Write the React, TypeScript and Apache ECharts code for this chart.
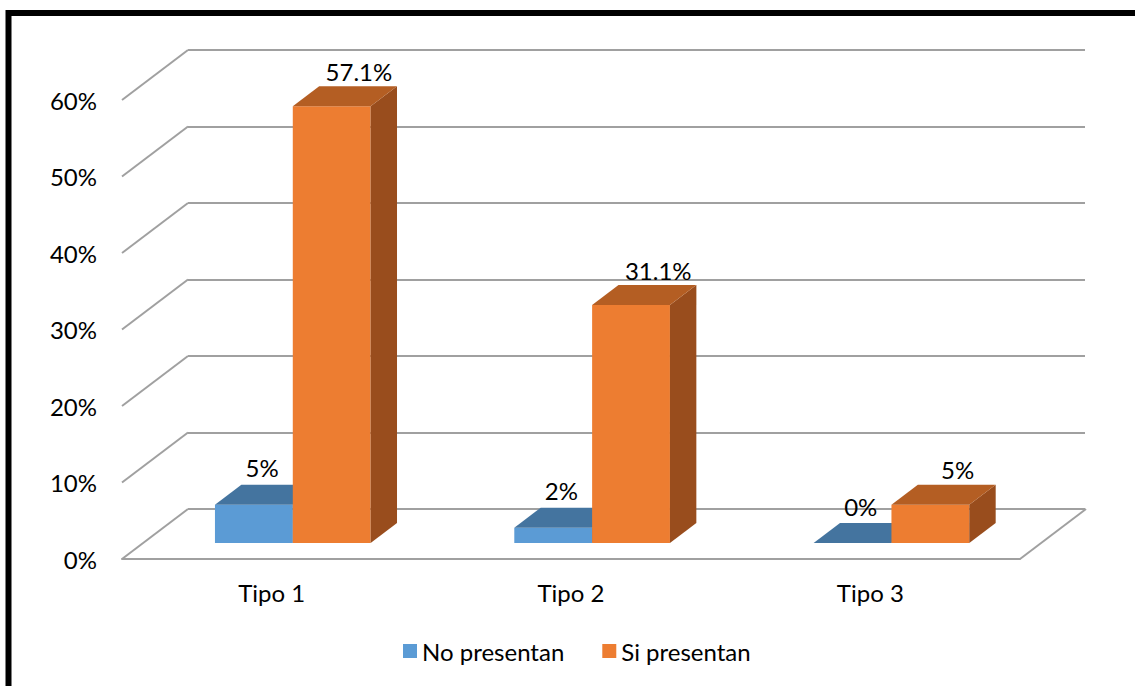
import React, { useEffect, useRef } from "react";
import * as echarts from "echarts";

// Chart content
const categories = ["Tipo 1", "Tipo 2", "Tipo 3"];
const seriesNames = ["No presentan", "Si presentan"];
const noPresentan = [0.05, 0.02, 0];
const siPresentan = [0.571, 0.311, 0.05];
const yTicks = [0, 0.1, 0.2, 0.3, 0.4, 0.5, 0.6];

// 3D look: front plane grid and back wall grid, offset by the depth vector
const FRONT = { left: 122, top: 100, width: 898, height: 459 };
const DEPTH_X = 66;
const DEPTH_Y = -50;
const BAR_START = 0.32; // fraction of depth where the bar front face sits
const BAR_DEPTH = 0.4; // fraction of depth taken by a bar
const BAR_WIDTH = 0.26; // fraction of category band per bar

const FONT = "Lato, 'Liberation Sans', sans-serif";
const FONT_SIZE = 24;
const GRID_COLOR = "#a0a0a0";

const palettes = [
  { front: "#5b9bd5", top: "#44749f", side: "#3f6a93", labelDx: -5, labelDy: -27 },
  { front: "#ed7d31", top: "#b45e23", side: "#994d1d", labelDx: 14, labelDy: -25 },
];

const fmtPct = (v: number) => `${Number((v * 100).toFixed(1))}%`;

function wallItem(params: any, api: any) {
  const cs = params.coordSys;
  const v = api.value(1);
  const y = api.coord([0, v])[1];
  const style = { stroke: GRID_COLOR, lineWidth: 2 };
  const children: any[] = [
    {
      type: "line",
      shape: { x1: cs.x, y1: y, x2: cs.x + DEPTH_X, y2: y + DEPTH_Y },
      style,
    },
  ];
  if (v === 0) {
    const xr = cs.x + cs.width;
    children.push({
      type: "line",
      shape: { x1: xr, y1: y, x2: xr + DEPTH_X, y2: y + DEPTH_Y },
      style,
    });
  }
  return { type: "group", children };
}

function makeBarRenderer(seriesIdx: number) {
  const pal = palettes[seriesIdx];
  return (params: any, api: any) => {
    const cat = api.value(0);
    const val = api.value(1);
    const top = api.coord([cat, val]);
    const base = api.coord([cat, 0]);
    const band = api.size([1, 0])[0];
    const w = band * BAR_WIDTH;
    const ox = BAR_START * DEPTH_X;
    const oy = BAR_START * DEPTH_Y;
    const dx = BAR_DEPTH * DEPTH_X;
    const dy = BAR_DEPTH * DEPTH_Y;
    const x0 = (seriesIdx === 0 ? top[0] - w : top[0]) + ox;
    const x1 = x0 + w;
    const yT = top[1] + oy;
    const yB = base[1] + oy;
    const h = yB - yT;
    const children: any[] = [];
    if (h > 0.01) {
      children.push({
        type: "rect",
        shape: { x: x0, y: yT, width: w, height: h },
        style: { fill: pal.front },
      });
      children.push({
        type: "polygon",
        shape: {
          points: [
            [x1, yT],
            [x1 + dx, yT + dy],
            [x1 + dx, yB + dy],
            [x1, yB],
          ],
        },
        style: { fill: pal.side },
      });
    }
    children.push({
      type: "polygon",
      shape: {
        points: [
          [x0, yT],
          [x1, yT],
          [x1 + dx, yT + dy],
          [x0 + dx, yT + dy],
        ],
      },
      style: { fill: pal.top },
    });
    children.push({
      type: "text",
      x: (x0 + x1) / 2 + dx / 2 + pal.labelDx,
      y: yT + dy / 2 + pal.labelDy,
      style: {
        text: fmtPct(val),
        fill: "#000",
        font: `${FONT_SIZE}px ${FONT}`,
        align: "center",
        verticalAlign: "middle",
      },
    });
    return { type: "group", children };
  };
}

export default function App() {
  const ref = useRef<HTMLDivElement>(null);

  useEffect(() => {
    if (!ref.current) return;
    const chart = echarts.init(ref.current, undefined, { renderer: "svg" });
    const barSeries = [noPresentan, siPresentan].map((vals, si) => ({
      type: "custom",
      name: seriesNames[si],
      xAxisIndex: 0,
      yAxisIndex: 0,
      z: 3 + si,
      itemStyle: { color: palettes[si].front },
      data: vals.map((v, i) => [i, v]),
      encode: { x: 0, y: 1 },
      renderItem: makeBarRenderer(si),
    }));

    chart.setOption({
      animation: false,
      backgroundColor: "#fff",
      textStyle: { fontFamily: FONT },
      graphic: [
        {
          type: "rect",
          shape: { x: 8.5, y: 13, width: 1300, height: 1000 },
          style: { fill: "none", stroke: "#000", lineWidth: 6 },
          z: 100,
        },
      ],
      legend: {
        data: seriesNames,
        left: 398,
        top: 634,
        icon: "rect",
        itemWidth: 14,
        itemHeight: 14,
        itemGap: 38,
        textStyle: { fontSize: FONT_SIZE, color: "#000", fontFamily: FONT },
      },
      grid: [
        { ...FRONT, containLabel: false },
        {
          left: FRONT.left + DEPTH_X,
          top: FRONT.top + DEPTH_Y,
          width: FRONT.width - 1,
          height: FRONT.height,
          containLabel: false,
        },
      ],
      xAxis: [
        {
          type: "category",
          gridIndex: 0,
          data: categories,
          axisLine: { show: true, lineStyle: { color: GRID_COLOR, width: 2 } },
          axisTick: { show: false },
          axisLabel: {
            margin: 21,
            fontSize: FONT_SIZE,
            color: "#000",
            fontFamily: FONT,
          },
          splitLine: { show: false },
        },
        {
          type: "category",
          gridIndex: 1,
          data: categories,
          axisLine: { show: false },
          axisTick: { show: false },
          axisLabel: { show: false },
          splitLine: { show: false },
        },
      ],
      yAxis: [
        {
          type: "value",
          gridIndex: 0,
          min: 0,
          max: 0.6,
          interval: 0.1,
          axisLine: { show: false },
          axisTick: { show: false },
          splitLine: { show: false },
          axisLabel: {
            margin: 25,
            fontSize: FONT_SIZE,
            color: "#000",
            fontFamily: FONT,
            formatter: (v: number) => `${Math.round(v * 100)}%`,
          },
        },
        {
          type: "value",
          gridIndex: 1,
          min: 0,
          max: 0.6,
          interval: 0.1,
          axisLine: { show: false },
          axisTick: { show: false },
          axisLabel: { show: false },
          splitLine: { show: true, lineStyle: { color: GRID_COLOR, width: 2 } },
        },
      ],
      series: [
        {
          type: "custom",
          xAxisIndex: 0,
          yAxisIndex: 0,
          z: 1,
          silent: true,
          data: yTicks.map((v) => [0, v]),
          encode: { x: 0, y: 1 },
          renderItem: wallItem,
        },
        ...barSeries,
      ],
    });
    return () => chart.dispose();
  }, []);

  return (
    <div
      ref={ref}
      style={{ position: "absolute", left: 0, top: 0, width: 1135, height: 686 }}
    />
  );
}
